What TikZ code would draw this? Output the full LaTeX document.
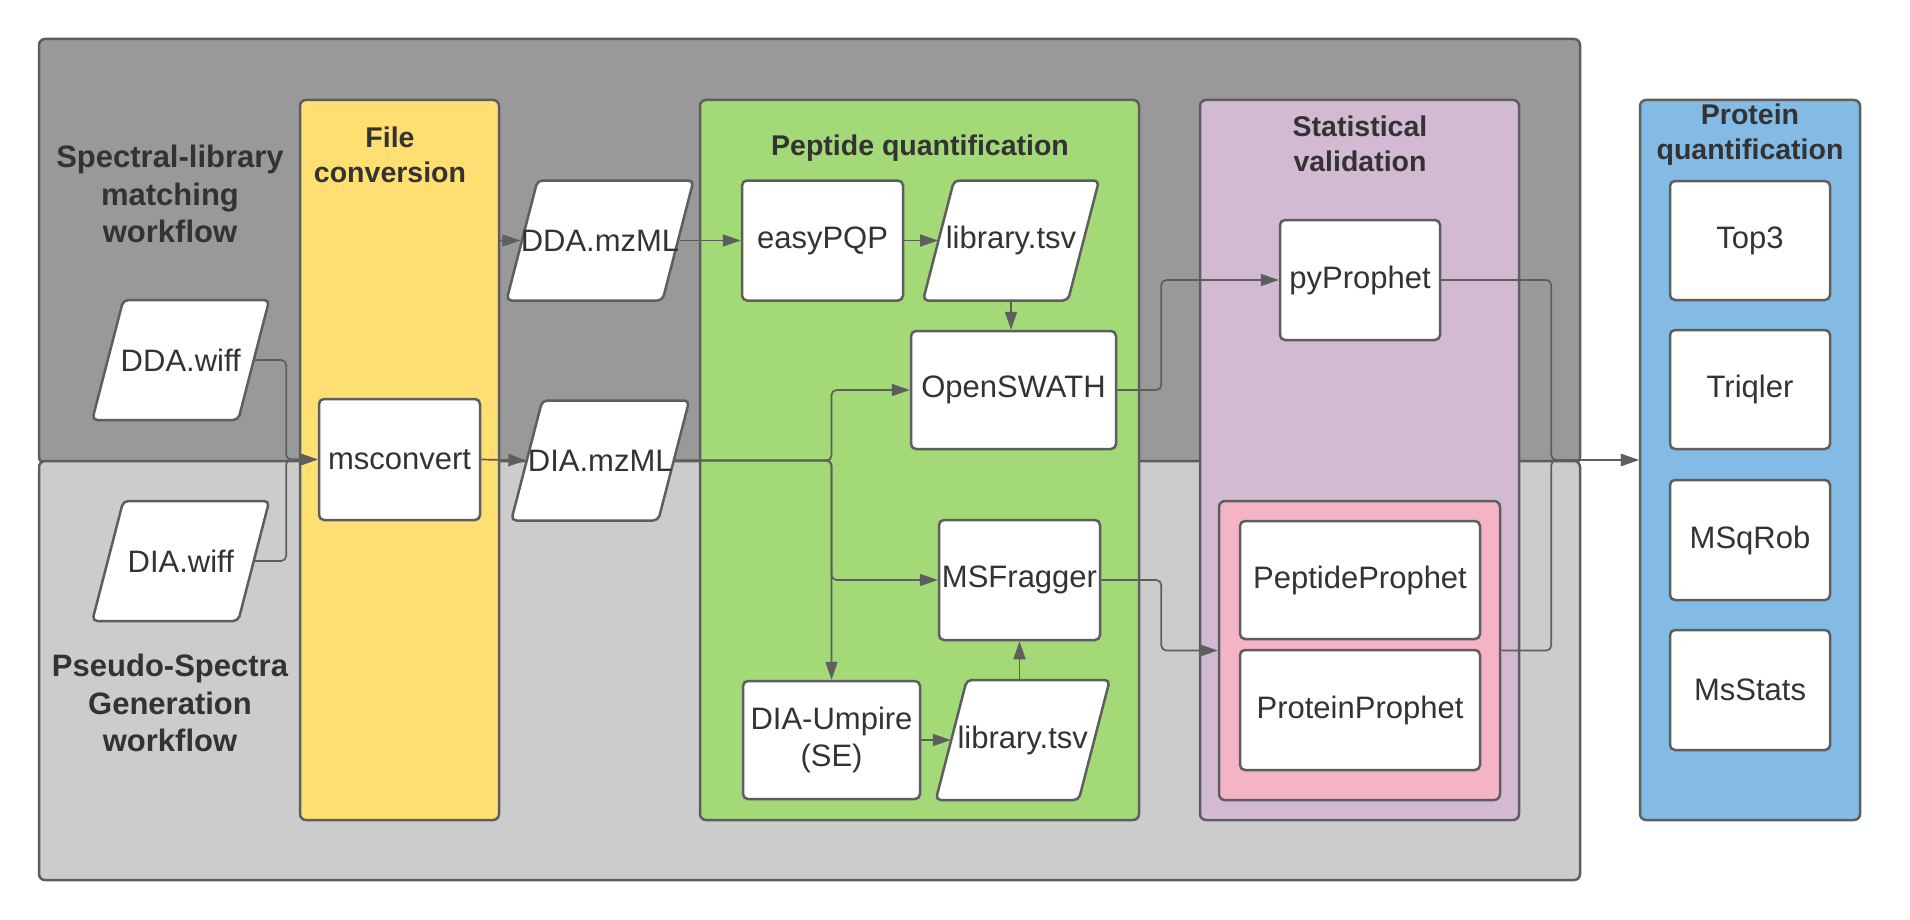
\documentclass[tikz,border=0pt]{standalone}
\usepackage{fontspec}
\setmainfont{Liberation Sans}
\usepackage{tikz}
\usetikzlibrary{arrows.meta, calc}
\definecolor{linec}{HTML}{5E5E5E}
\definecolor{txtc}{HTML}{333333}
\definecolor{darkbg}{HTML}{999999}
\definecolor{lightbg}{HTML}{CCCCCC}
\definecolor{convc}{HTML}{FFDF71}
\definecolor{peptc}{HTML}{A3D977}
\definecolor{statc}{HTML}{D2BBD2}
\definecolor{pinkc}{HTML}{F4B4C6}
\definecolor{protc}{HTML}{83BBE5}
\pgfdeclarelayer{back}
\pgfdeclarelayer{hidden}
\pgfdeclarelayer{lanes}
\pgfsetlayers{back,hidden,lanes,main}

\tikzset{
  box/.style={draw=linec, line width=1.25pt, rounded corners=2.5pt, fill=white, text=txtc,
    font=\fontsize{15.5}{18.5}\selectfont, align=center, inner sep=0pt,
    minimum width=80.5pt, minimum height=60pt},
  file/.style={draw=linec, line width=1.25pt, rounded corners=2.5pt, fill=white},
  filetext/.style={text=txtc, font=\fontsize{15.5}{18.5}\selectfont, inner sep=0pt, minimum height=60pt},
  lane/.style={draw=linec, line width=1.25pt, rounded corners=3pt, inner sep=0pt},
  title/.style={text=txtc, font=\fontsize{14.25}{17.5}\selectfont\bfseries, align=center, inner sep=0pt},
  sidetitle/.style={text=txtc, font=\fontsize{15.5}{18.75}\selectfont\bfseries, align=center, inner sep=0pt},
  flow/.style={draw=linec, line width=0.85pt, rounded corners=2.5pt, ->},
}

% name, x, y, width, label
\newcommand\datafile[5]{%
  \draw[file] (#2-#4/2+15.5,#3-60) -- (#2+#4/2+15.5,#3-60) -- (#2+#4/2-15.5,#3+60)
    -- (#2-#4/2-15.5,#3+60) -- cycle;
  \node[filetext, minimum width=#4*0.5pt] (#1) at (#2,#3) {#5};
}

\begin{document}
\begin{tikzpicture}[x=0.5pt, y=-0.5pt, >={Triangle[length=9pt, width=6pt]}]

\useasboundingbox (0,0) rectangle (1910,920);

\begin{pgfonlayer}{back}
\draw[lane, fill=darkbg] (39,39) rectangle (1580,463);
\draw[lane, fill=lightbg] (39,461) rectangle (1580,880);
\end{pgfonlayer}

\begin{pgfonlayer}{lanes}
\node[lane, fill=convc, minimum width=99.5pt, minimum height=360pt] (conv) at (399.5,460) {};
\node[lane, fill=peptc, minimum width=219.5pt, minimum height=360pt] (pept) at (919.5,460) {};
\node[lane, fill=statc, minimum width=159.5pt, minimum height=360pt] (stat) at (1359.5,460) {};
\node[lane, fill=pinkc, minimum width=140.5pt, minimum height=149.5pt] (pink) at (1359.5,650.5) {};
\node[lane, fill=protc, minimum width=110pt, minimum height=360pt] (protq) at (1750,460) {};
\end{pgfonlayer}

\node[sidetitle] (speclib) at (170,194) {Spectral-library\\matching\\workflow};
\node[sidetitle] (pseudo) at (170,703) {Pseudo-Spectra\\Generation\\workflow};
\node[title] (convtitle) at (390,155) {File\\conversion};
\node[title] (pepttitle) at (920,148) {Peptide quantification};
\node[title] (stattitle) at (1360,144) {Statistical\\validation};
\node[title] (prottitle) at (1750,135) {Protein\\quantification};

\datafile{ddawiff}{180.75}{360}{146}{DDA.wiff}
\datafile{diawiff}{180.75}{561}{146}{DIA.wiff}
\datafile{ddamzml}{600}{240.5}{156}{DDA.mzML}
\datafile{diamzml}{600.25}{460.5}{147}{DIA.mzML}
\datafile{libtop}{1011}{240.5}{145}{library.tsv}
\datafile{libbot}{1022.75}{740}{143}{library.tsv}

\node[box, minimum height=60.5pt] (msconvert) at (399.5,459.5) {msconvert};
\node[box] (easypqp) at (822.5,240.5) {easyPQP};
\node[box, minimum width=102.5pt, minimum height=59pt] (openswath) at (1013.5,390) {OpenSWATH};
\node[box] (msfragger) at (1019.5,580) {MSFragger};
\node[box, minimum width=88.5pt, minimum height=59pt] (diaumpire) at (831.5,740) {DIA-Umpire\\(SE)};
\node[box, minimum width=80pt] (pyprophet) at (1360,280) {pyProphet};
\node[box, minimum width=120pt, minimum height=59pt] (peptproph) at (1360,580) {PeptideProphet};
\node[box, minimum width=120pt] (protproph) at (1360,710) {ProteinProphet};
\node[box, minimum width=80pt, minimum height=59.5pt] (top3) at (1750,240.5) {Top3};
\node[box, minimum width=80pt, minimum height=59.5pt] (triqler) at (1750,389.5) {Triqler};
\node[box, minimum width=80pt] (msqrob) at (1750,540) {MSqRob};
\node[box, minimum width=80pt] (msstats) at (1750,690) {MsStats};

% connectors
\draw[flow] (ddawiff.east) -- ++(32,0) |- (msconvert.west);
\draw[flow] (diawiff.east) -- ++(32,0) |- (msconvert.west);
\draw[flow] (msconvert.east) -- (diamzml.west);
\begin{pgfonlayer}{hidden}
\draw[flow] (msconvert.north) |- (ddamzml.west);
\end{pgfonlayer}
\draw[flow] (ddamzml.east) -- (easypqp.west);
\draw[flow] (easypqp.east) -- (libtop.west);
\draw[flow] (libtop.south) -- (libtop.south |- openswath.north);
\draw[flow] (diamzml.east) -- (diamzml.east -| diaumpire.north) |- (openswath.west);
\draw[flow] (diamzml.east) -- (diamzml.east -| diaumpire.north) |- (msfragger.west);
\draw[flow] (diamzml.east) -| (diaumpire.north);
\draw[flow] (msfragger.south |- libbot.north) -- (msfragger.south);
\draw[flow] (diaumpire.east) -- (libbot.west);
\draw[flow] (openswath.east) -- ++(44,0) |- (pyprophet.west);
\draw[flow] (msfragger.east) -- ++(60,0) |- (pink.west);
\draw[flow] (pyprophet.east) -- ++(110,0) |- (protq.west);
\draw[flow] (pink.east) -- ++(50,0) |- (protq.west);

\end{tikzpicture}
\end{document}
